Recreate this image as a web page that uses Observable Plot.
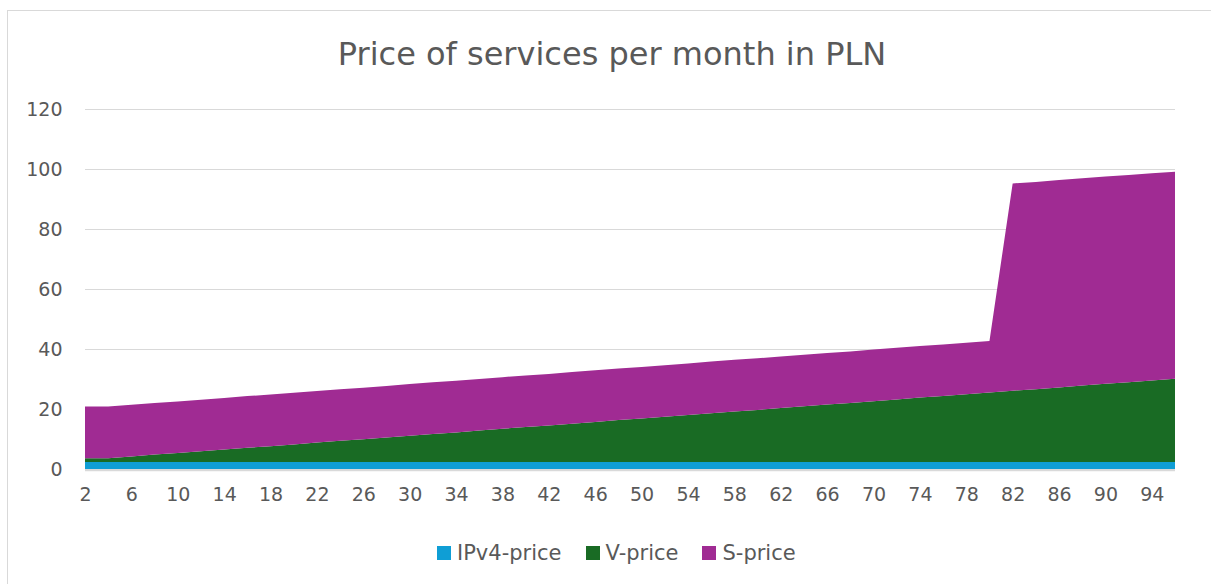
<!DOCTYPE html>
<html>
<head>
<meta charset="utf-8">
<script src="https://cdn.jsdelivr.net/npm/d3@7"></script>
<script src="https://cdn.jsdelivr.net/npm/@observablehq/plot@0.6"></script>
<style>
  html, body { margin: 0; padding: 0; background: #fff; }
  #wrap { position: relative; width: 1211px; height: 584px; overflow: hidden; font-family: "DejaVu Sans", sans-serif; color: #595959; }
  #frame { position: absolute; left: 7px; top: 10px; width: 1240px; height: 620px; border: 1px solid #d9d9d9; box-sizing: border-box; }
  #title { position: absolute; left: 0; width: 1224px; top: 35px; text-align: center; font-size: 32px; color: #595959; }
  #chart { position: absolute; left: 0; top: 0; }
  #legend { position: absolute; top: 541px; left: 437px; display: flex; align-items: center; font-size: 21px; color: #595959; }
  .item { display: flex; align-items: center; margin-right: 24px; }
  .sw { width: 14px; height: 14px; margin-right: 6px; }
</style>
</head>
<body>
<div id="wrap">
  <div id="frame"></div>
  <div id="chart"></div>
  <div id="title">Price of services per month in PLN</div>
  <div id="legend"></div>
</div>
<script>
const sizes = [2,4,6,8,10,12,14,16,18,20,22,24,26,28,30,32,34,36,38,40,42,44,46,48,50,52,54,56,58,60,62,64,66,68,70,72,74,76,78,80,82,84,86,88,90,92,94,96];
const ipv4Price = [2.3,2.3,2.3,2.3,2.3,2.3,2.3,2.3,2.3,2.3,2.3,2.3,2.3,2.3,2.3,2.3,2.3,2.3,2.3,2.3,2.3,2.3,2.3,2.3,2.3,2.3,2.3,2.3,2.3,2.3,2.3,2.3,2.3,2.3,2.3,2.3,2.3,2.3,2.3,2.3,2.3,2.3,2.3,2.3,2.3,2.3,2.3,2.3];
const vPrice = [1.3,1.3,1.9,2.5,3.0,3.6,4.2,4.8,5.3,5.9,6.5,7.1,7.6,8.2,8.8,9.4,9.9,10.5,11.1,11.7,12.2,12.8,13.4,14.0,14.5,15.1,15.7,16.3,16.9,17.4,18.0,18.6,19.2,19.7,20.3,20.9,21.5,22.0,22.6,23.2,23.8,24.3,24.9,25.5,26.1,26.6,27.2,27.8];
const sPrice = [17.2,17.2,17.2,17.2,17.2,17.2,17.2,17.2,17.2,17.2,17.2,17.2,17.2,17.2,17.2,17.2,17.2,17.2,17.2,17.2,17.2,17.2,17.2,17.2,17.2,17.2,17.2,17.2,17.2,17.2,17.2,17.2,17.2,17.2,17.2,17.2,17.2,17.2,17.2,17.2,69.1,69.1,69.1,69.1,69.1,69.1,69.1,69.0];
const seriesNames = ["IPv4-price", "V-price", "S-price"];
const seriesColors = ["#0F9ED5", "#196B24", "#A02B93"];
const xTicks = [2,6,10,14,18,22,26,30,34,38,42,46,50,54,58,62,66,70,74,78,82,86,90,94];
const yTicks = [0,20,40,60,80,100,120];

const seriesValues = [ipv4Price, vPrice, sPrice];
const rows = [];
seriesNames.forEach((name, i) => {
  sizes.forEach((n, j) => rows.push({n, value: seriesValues[i][j], series: name}));
});

const chart = Plot.plot({
  width: 1211,
  height: 584,
  marginLeft: 85,
  marginRight: 36,
  marginTop: 109,
  marginBottom: 115,
  style: { fontFamily: "'DejaVu Sans', sans-serif", fontSize: "19px", color: "#595959", background: "transparent" },
  x: { type: "linear", domain: [2, 96] },
  y: { domain: [0, 120] },
  color: { domain: seriesNames, range: seriesColors },
  marks: [
    Plot.gridY(yTicks, { stroke: "#d9d9d9", strokeOpacity: 1, strokeWidth: 1 }),
    Plot.areaY(rows, { x: "n", y: "value", fill: "series", z: "series", order: seriesNames, curve: "linear" }),
    Plot.ruleY([0], { stroke: "#d9d9d9", strokeWidth: 1.5, dy: 1 }),
    Plot.axisY({ ticks: yTicks, tickSize: 0, tickPadding: 23, fontSize: 19, fill: "#595959", label: null }),
    Plot.axisX({ ticks: xTicks, tickSize: 0, tickPadding: 18, fontSize: 19, fill: "#595959", label: null, tickFormat: d => String(d) })
  ]
});
document.getElementById("chart").appendChild(chart);

const legend = document.getElementById("legend");
seriesNames.forEach((name, i) => {
  const item = document.createElement("div");
  item.className = "item";
  const sw = document.createElement("div");
  sw.className = "sw";
  sw.style.background = seriesColors[i];
  const label = document.createElement("span");
  label.textContent = name;
  item.appendChild(sw);
  item.appendChild(label);
  legend.appendChild(item);
});
</script>
</body>
</html>
